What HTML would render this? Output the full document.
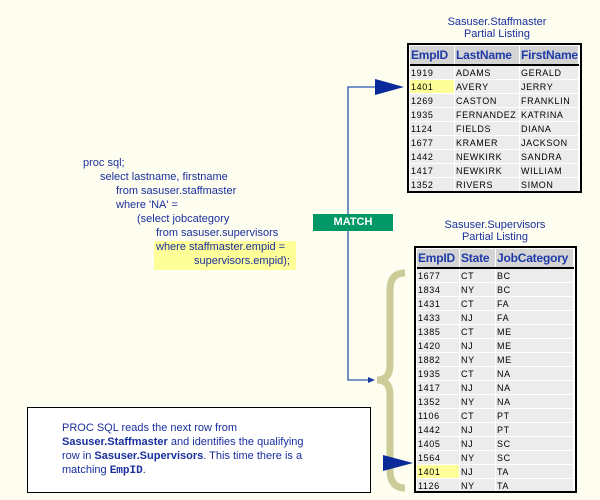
<!DOCTYPE html>
<html><head><style>
body{margin:0;width:600px;height:500px;background:#fefef0;position:relative;overflow:hidden;font-family:"Liberation Sans",sans-serif}
.a{position:absolute}
.code{color:#1a2f9e;font-size:11px;white-space:nowrap}
.t{position:absolute;border:2px solid #000;background:#fff;padding:1px;box-sizing:border-box;overflow:hidden}
.t table{border-collapse:collapse;width:100%;table-layout:fixed}
.t th{background:#d4d4d4;color:#1e3aa8;font-size:12px;font-weight:bold;text-align:left;padding:0 1px;height:18px;border-right:1px solid #fff;white-space:nowrap;overflow:hidden;letter-spacing:-0.2px}
.t td{font-size:9px;color:#000;letter-spacing:0.6px;padding:0 1px;height:13px;border-bottom:1px solid #fff;background:#ececec;border-right:1px solid #fff;white-space:nowrap;overflow:hidden}
.t tbody tr:first-child td{border-top:2px solid #000}
.hl{background:#ffff99!important}
.ttl{color:#1a2f9e;font-size:11px;text-align:center;line-height:12px}
</style></head><body>
<div class="a ttl" style="left:407px;top:16px;width:180px">Sasuser.Staffmaster<br>Partial Listing</div>
<div class="t" style="left:407px;top:43px;width:175px;height:150px">
<table><thead><tr><th style="width:42px">EmpID</th><th style="width:62px">LastName</th><th>FirstName</th></tr></thead><tbody>
<tr><td>1919</td><td>ADAMS</td><td>GERALD</td></tr>
<tr><td class="hl">1401</td><td>AVERY</td><td>JERRY</td></tr>
<tr><td>1269</td><td>CASTON</td><td>FRANKLIN</td></tr>
<tr><td>1935</td><td>FERNANDEZ</td><td>KATRINA</td></tr>
<tr><td>1124</td><td>FIELDS</td><td>DIANA</td></tr>
<tr><td>1677</td><td>KRAMER</td><td>JACKSON</td></tr>
<tr><td>1442</td><td>NEWKIRK</td><td>SANDRA</td></tr>
<tr><td>1417</td><td>NEWKIRK</td><td>WILLIAM</td></tr>
<tr><td>1352</td><td>RIVERS</td><td>SIMON</td></tr>
</tbody></table></div>
<div class="a ttl" style="left:410px;top:219px;width:170px">Sasuser.Supervisors<br>Partial Listing</div>
<div class="t" style="left:414px;top:246px;width:163px;height:247px">
<table><thead><tr><th style="width:40px">EmpID</th><th style="width:33px">State</th><th>JobCategory</th></tr></thead><tbody>
<tr><td>1677</td><td>CT</td><td>BC</td></tr>
<tr><td>1834</td><td>NY</td><td>BC</td></tr>
<tr><td>1431</td><td>CT</td><td>FA</td></tr>
<tr><td>1433</td><td>NJ</td><td>FA</td></tr>
<tr><td>1385</td><td>CT</td><td>ME</td></tr>
<tr><td>1420</td><td>NJ</td><td>ME</td></tr>
<tr><td>1882</td><td>NY</td><td>ME</td></tr>
<tr><td>1935</td><td>CT</td><td>NA</td></tr>
<tr><td>1417</td><td>NJ</td><td>NA</td></tr>
<tr><td>1352</td><td>NY</td><td>NA</td></tr>
<tr><td>1106</td><td>CT</td><td>PT</td></tr>
<tr><td>1442</td><td>NJ</td><td>PT</td></tr>
<tr><td>1405</td><td>NJ</td><td>SC</td></tr>
<tr><td>1564</td><td>NY</td><td>SC</td></tr>
<tr><td class="hl">1401</td><td>NJ</td><td>TA</td></tr>
<tr><td>1126</td><td>NY</td><td>TA</td></tr>
</tbody></table></div>
<svg class="a" style="left:0;top:0" width="600" height="500">
<path d="M405 273 Q390 273 390 290 L390 365 Q390 380 377 380 Q390 380 390 395 L390 470 Q390 488 405 488" fill="none" stroke="#cccc99" stroke-width="7"/>
<polyline points="375,87 348,87 348,380 368,380" fill="none" stroke="#2a55b0" stroke-width="1.3"/>
<polygon points="368,377 375,380 368,383" fill="#1a3aa0"/>
<polygon points="375,79 404,87 375,95" fill="#0a2a9a"/>
<polygon points="383,455 413,463 383,471" fill="#0a2a9a"/>
</svg>
<div class="a" style="left:313px;top:214px;width:80px;height:17px;background:#009966;color:#fff;font-weight:bold;font-size:11px;text-align:center;line-height:17px">MATCH</div>
<div class="a" style="left:154px;top:241px;width:142px;height:29px;background:#ffff99"></div>
<div class="a code" style="left:83px;top:157px">proc sql;</div>
<div class="a code" style="left:100px;top:171px">select lastname, firstname</div>
<div class="a code" style="left:116px;top:185px">from sasuser.staffmaster</div>
<div class="a code" style="left:116px;top:199px">where 'NA' =</div>
<div class="a code" style="left:137px;top:213px">(select jobcategory</div>
<div class="a code" style="left:156px;top:227px">from sasuser.supervisors</div>
<div class="a code" style="left:156px;top:241px">where staffmaster.empid =</div>
<div class="a code" style="left:194px;top:255px">supervisors.empid);</div>
<div class="a" style="left:27px;top:407px;width:344px;height:86px;border:1px solid #000;background:#fff;box-sizing:border-box"></div>
<div class="a" style="left:62px;top:421px;width:300px;color:#1a2f9e;font-size:11px;line-height:14px">PROC SQL reads the next row from<br><b>Sasuser.Staffmaster</b> and identifies the qualifying<br>row in <b>Sasuser.Supervisors</b>. This time there is a<br>matching <b style="font-family:'Liberation Mono',monospace">EmpID</b>.</div>
</body></html>
